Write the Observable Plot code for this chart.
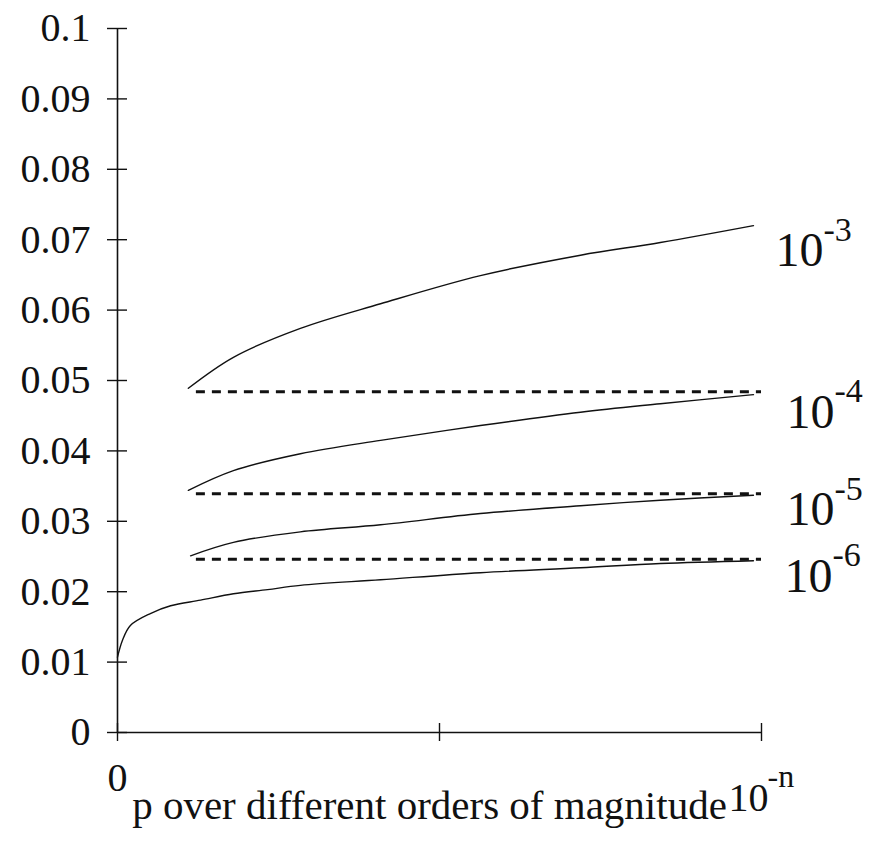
<!DOCTYPE html>
<html>
<head>
<meta charset="utf-8">
<script src="https://cdn.jsdelivr.net/npm/d3@7"></script>
<script src="https://cdn.jsdelivr.net/npm/@observablehq/plot@0.6"></script>
<style>
  html, body { margin: 0; padding: 0; background: #fff; }
  #chart svg { display: block; }
  #chart svg text { font-family: "Liberation Serif", "Times New Roman", serif; }
</style>
</head>
<body>
<div id="chart"></div>
<script>
// ---- data ----
const yTicks = [0, 0.01, 0.02, 0.03, 0.04, 0.05, 0.06, 0.07, 0.08, 0.09, 0.1];
const yTickLabels = ["0", "0.01", "0.02", "0.03", "0.04", "0.05", "0.06", "0.07", "0.08", "0.09", "0.1"];
const xTicks = [0, 1, 2];

// curve for 10^-3
const xP3 = [0.22, 0.36, 0.568, 0.817, 1.127, 1.438, 1.686, 1.975];
const yP3 = [0.0489, 0.0533, 0.0574, 0.0609, 0.0649, 0.0678, 0.0696, 0.0720];
// curve for 10^-4
const xP4 = [0.22, 0.36, 0.568, 0.817, 1.127, 1.438, 1.686, 1.975];
const yP4 = [0.0344, 0.0372, 0.0396, 0.0415, 0.0436, 0.0455, 0.0467, 0.0480];
// curve for 10^-5
const xP5 = [0.227, 0.36, 0.568, 0.817, 1.127, 1.438, 1.686, 1.975];
const yP5 = [0.0251, 0.0270, 0.0285, 0.0295, 0.0311, 0.0322, 0.0330, 0.0337];
// curve for 10^-6
const xP6 = [0, 0.0155, 0.040, 0.102, 0.165, 0.258, 0.36, 0.466, 0.568, 0.817, 1.127, 1.438, 1.686, 1.975];
const yP6 = [0.0107, 0.0131, 0.0152, 0.0169, 0.0180, 0.0188, 0.0197, 0.0203, 0.0209, 0.0217, 0.0227, 0.0234, 0.0240, 0.0244];

// dashed reference levels
const dashLevels = [0.0484, 0.0339, 0.0246];
const dashStart = 0.245;
const dashEnd = 2;

// curve labels
const labelBase = ["10", "10", "10", "10"];
const labelExp = ["-3", "-4", "-5", "-6"];
const labelAt = [0.0684, 0.0455, 0.0316, 0.0222];

const xTitle = "p over different orders of magnitude";
const xEndBase = "10";
const xEndExp = "-n";
const xZeroLabel = "0";

// ---- build ----
function series(xs, ys) { return xs.map((x, i) => ({x, y: ys[i]})); }
const curves = [series(xP3, yP3), series(xP4, yP4), series(xP5, yP5), series(xP6, yP6)];
const labelShift = [14, 25, 25, 23];
const labels = labelBase.map((b, i) => ({base: b, exp: labelExp[i], y: labelAt[i], k: i}));
const font = "'Liberation Serif', 'Times New Roman', serif";
const ink = "#111";

const curveMarks = curves.map(c => Plot.line(c, {
  x: "x", y: "y", curve: "catmull-rom", stroke: ink, strokeWidth: 1.4
}));

const labelMarks = labels.flatMap(l => [
  Plot.text([l], {x: 2, y: "y", text: "base", textAnchor: "start", dx: labelShift[l.k], fontSize: 48, fontFamily: font, fill: ink}),
  Plot.text([l], {x: 2, y: "y", text: "exp", textAnchor: "start", dx: labelShift[l.k] + 48, dy: -21, fontSize: 34, fontFamily: font, fill: ink})
]);

const chart = Plot.plot({
  width: 873,
  height: 843,
  marginLeft: 117,
  marginRight: 112,
  marginTop: 28,
  marginBottom: 111,
  x: {domain: [0, 2], axis: null},
  y: {domain: [0, 0.1], axis: null},
  style: {background: "#fff", fontFamily: font, color: ink},
  marks: [
    // axes lines
    Plot.ruleX([0], {y1: 0, y2: 0.1, stroke: ink, strokeWidth: 1.6}),
    Plot.ruleY([0], {x1: 0, x2: 2, stroke: ink, strokeWidth: 1.6}),
    // y ticks crossing the axis
    Plot.ruleY(yTicks, {y: d => d, x1: 0, x2: 0, insetLeft: -10, insetRight: -10, stroke: ink, strokeWidth: 1.4}),
    // x ticks crossing the axis
    Plot.ruleX(xTicks, {x: d => d, y1: 0, y2: 0, insetTop: -9, insetBottom: -9, stroke: ink, strokeWidth: 1.4}),
    // y tick labels
    Plot.text(yTicks, {x: 0, y: d => d, text: (d, i) => yTickLabels[i], textAnchor: "end", dx: -27, fontSize: 40, fontFamily: font, fill: ink}),
    // x labels
    Plot.text([xZeroLabel], {x: 0, y: 0, text: d => d, dy: 46, fontSize: 40, fontFamily: font, fill: ink}),
    Plot.text([xTitle], {frameAnchor: "bottom", text: d => d, dx: -10, dy: 86, fontSize: 41, fontFamily: font, fill: ink}),
    Plot.text([xEndBase], {x: 2, y: 0, text: d => d, textAnchor: "start", dx: -33, dy: 66, fontSize: 40, fontFamily: font, fill: ink}),
    Plot.text([xEndExp], {x: 2, y: 0, text: d => d, textAnchor: "start", dx: 6, dy: 44, fontSize: 32, fontFamily: font, fill: ink}),
    // dashed levels
    Plot.ruleY(dashLevels, {y: d => d, x1: dashStart, x2: dashEnd, stroke: ink, strokeWidth: 3, strokeDasharray: "9,7"}),
    // curves
    ...curveMarks,
    // curve labels
    ...labelMarks
  ]
});
document.getElementById("chart").appendChild(chart);
</script>
</body>
</html>
